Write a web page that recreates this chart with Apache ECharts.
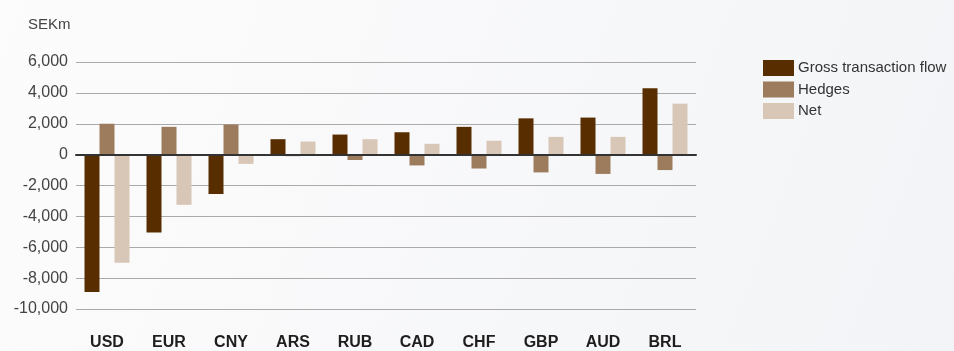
<!DOCTYPE html>
<html>
<head>
<meta charset="utf-8">
<script src="https://cdn.jsdelivr.net/npm/echarts@6/dist/echarts.min.js"></script>
<style>
  html, body { margin: 0; padding: 0; }
  #chart { width: 954px; height: 351px; }
</style>
</head>
<body>
<div id="chart"></div>
<script>
  // currencies along the x axis
  var currencies = ['USD', 'EUR', 'CNY', 'ARS', 'RUB', 'CAD', 'CHF', 'GBP', 'AUD', 'BRL']
  // SEKm
  var grossFlow = [-8900, -5050, -2550, 1000, 1300, 1450, 1800, 2350, 2400, 4300]
  var hedges = [2000, 1800, 1950, -100, -350, -700, -900, -1150, -1250, -1000]
  var net = [-7000, -3250, -600, 850, 1000, 700, 900, 1150, 1150, 3300]
  var seriesNames = ['Gross transaction flow', 'Hedges', 'Net']

  var font = '"Liberation Sans", Arial, sans-serif'
  var colors = ['#582e00', '#9d7c5e', '#d8c6b6']

  var chart = echarts.init(document.getElementById('chart'))
  chart.setOption({
    backgroundColor: {
      type: 'linear', x: 0, y: 0, x2: 1, y2: 1,
      colorStops: [
        { offset: 0, color: '#fcfcfc' },
        { offset: 1, color: '#f3f4f7' }
      ]
    },
    animation: false,
    color: colors,
    title: {
      text: 'SEKm',
      left: 28,
      top: 17,
      padding: 0,
      textStyle: {
        fontFamily: font,
        fontWeight: 'normal',
        fontSize: 15,
        color: '#444'
      }
    },
    legend: {
      orient: 'vertical',
      left: 763,
      top: 60,
      padding: 0,
      icon: 'rect',
      itemWidth: 31,
      itemHeight: 16,
      itemGap: 5.5,
      data: seriesNames,
      textStyle: {
        fontFamily: font,
        fontSize: 15,
        color: '#333',
        padding: [0, 0, 0, -1]
      }
    },
    grid: {
      left: 76,
      right: 258,
      top: 62,
      bottom: 40
    },
    xAxis: {
      type: 'category',
      data: currencies,
      z: 5,
      axisLine: {
        lineStyle: { color: '#333', width: 2 }
      },
      axisTick: { show: false },
      axisLabel: {
        margin: 26,
        fontFamily: font,
        fontSize: 16,
        fontWeight: 'bold',
        color: '#1e1e1e'
      }
    },
    yAxis: {
      type: 'value',
      min: -10000,
      max: 6000,
      interval: 2000,
      axisLine: { show: false },
      axisTick: { show: false },
      splitLine: {
        lineStyle: { color: '#aaa', width: 1 }
      },
      axisLabel: {
        margin: 8,
        fontFamily: font,
        fontSize: 16,
        color: '#444',
        formatter: function (v) {
          return v.toLocaleString('en-US')
        }
      }
    },
    series: [
      { name: seriesNames[0], type: 'bar', data: grossFlow, barWidth: 15, barGap: '0%' },
      { name: seriesNames[1], type: 'bar', data: hedges, barWidth: 15, barGap: '0%' },
      { name: seriesNames[2], type: 'bar', data: net, barWidth: 15, barGap: '0%' }
    ]
  })
</script>
</body>
</html>
